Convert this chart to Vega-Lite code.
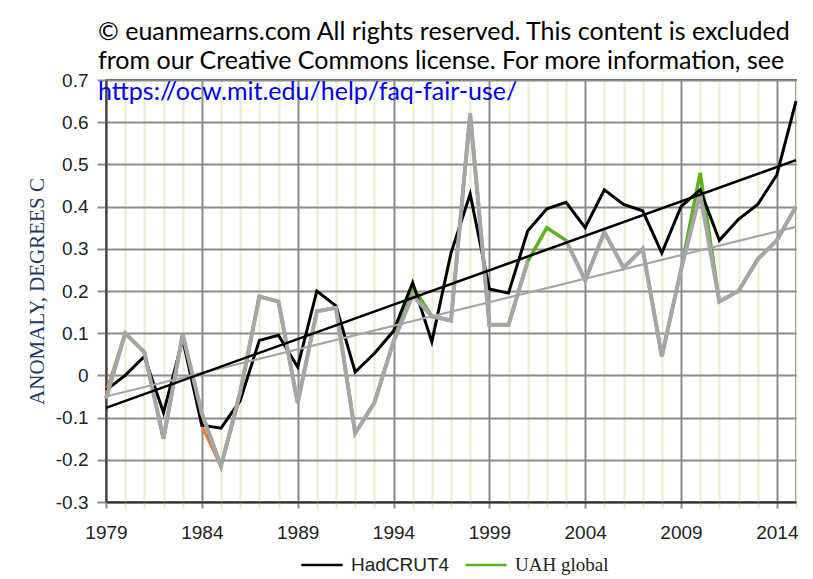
{
  "$schema": "https://vega.github.io/schema/vega-lite/v6.json",
  "width": 690,
  "height": 422,
  "autosize": "none",
  "padding": {"left": 106, "top": 80, "right": 17, "bottom": 77},
  "background": "white",
  "config": {"view": {"stroke": "#222222", "strokeWidth": 1.5}},
  "title": {
    "text": ["© euanmearns.com All rights reserved. This content is excluded", "from our Creative Commons license. For more information, see"],
    "subtitle": "https://ocw.mit.edu/help/faq-fair-use/",
    "anchor": "start",
    "frame": "group",
    "font": "Lato",
    "fontSize": 25,
    "fontWeight": "normal",
    "color": "#000000",
    "lineHeight": 29,
    "subtitleFont": "Lato",
    "subtitleFontSize": 25,
    "subtitleColor": "#0000ee",
    "subtitleLineHeight": 30,
    "subtitlePadding": 6,
    "offset": -34,
    "dx": -8
  },
  "data": {
    "values": [
      {"year": 1979, "series": "HadCRUT4", "value": -0.035},
      {"year": 1980, "series": "HadCRUT4", "value": 0.0},
      {"year": 1981, "series": "HadCRUT4", "value": 0.045},
      {"year": 1982, "series": "HadCRUT4", "value": -0.088},
      {"year": 1983, "series": "HadCRUT4", "value": 0.085},
      {"year": 1984, "series": "HadCRUT4", "value": -0.118},
      {"year": 1985, "series": "HadCRUT4", "value": -0.125},
      {"year": 1986, "series": "HadCRUT4", "value": -0.06},
      {"year": 1987, "series": "HadCRUT4", "value": 0.083},
      {"year": 1988, "series": "HadCRUT4", "value": 0.095},
      {"year": 1989, "series": "HadCRUT4", "value": 0.02},
      {"year": 1990, "series": "HadCRUT4", "value": 0.2},
      {"year": 1991, "series": "HadCRUT4", "value": 0.165},
      {"year": 1992, "series": "HadCRUT4", "value": 0.008},
      {"year": 1993, "series": "HadCRUT4", "value": 0.052},
      {"year": 1994, "series": "HadCRUT4", "value": 0.105},
      {"year": 1995, "series": "HadCRUT4", "value": 0.22},
      {"year": 1996, "series": "HadCRUT4", "value": 0.08},
      {"year": 1997, "series": "HadCRUT4", "value": 0.29},
      {"year": 1998, "series": "HadCRUT4", "value": 0.43},
      {"year": 1999, "series": "HadCRUT4", "value": 0.205},
      {"year": 2000, "series": "HadCRUT4", "value": 0.195},
      {"year": 2001, "series": "HadCRUT4", "value": 0.342},
      {"year": 2002, "series": "HadCRUT4", "value": 0.395},
      {"year": 2003, "series": "HadCRUT4", "value": 0.41},
      {"year": 2004, "series": "HadCRUT4", "value": 0.35},
      {"year": 2005, "series": "HadCRUT4", "value": 0.44},
      {"year": 2006, "series": "HadCRUT4", "value": 0.405},
      {"year": 2007, "series": "HadCRUT4", "value": 0.39},
      {"year": 2008, "series": "HadCRUT4", "value": 0.29},
      {"year": 2009, "series": "HadCRUT4", "value": 0.4},
      {"year": 2010, "series": "HadCRUT4", "value": 0.44},
      {"year": 2011, "series": "HadCRUT4", "value": 0.32},
      {"year": 2012, "series": "HadCRUT4", "value": 0.37},
      {"year": 2013, "series": "HadCRUT4", "value": 0.405},
      {"year": 2014, "series": "HadCRUT4", "value": 0.475},
      {"year": 2015, "series": "HadCRUT4", "value": 0.65},

      {"year": 1979, "series": "UAH global", "value": -0.055},
      {"year": 1980, "series": "UAH global", "value": 0.1},
      {"year": 1981, "series": "UAH global", "value": 0.055},
      {"year": 1982, "series": "UAH global", "value": -0.15},
      {"year": 1983, "series": "UAH global", "value": 0.097},
      {"year": 1984, "series": "UAH global", "value": -0.09},
      {"year": 1985, "series": "UAH global", "value": -0.215},
      {"year": 1986, "series": "UAH global", "value": -0.04},
      {"year": 1987, "series": "UAH global", "value": 0.187},
      {"year": 1988, "series": "UAH global", "value": 0.175},
      {"year": 1989, "series": "UAH global", "value": -0.065},
      {"year": 1990, "series": "UAH global", "value": 0.152},
      {"year": 1991, "series": "UAH global", "value": 0.16},
      {"year": 1992, "series": "UAH global", "value": -0.137},
      {"year": 1993, "series": "UAH global", "value": -0.065},
      {"year": 1994, "series": "UAH global", "value": 0.08},
      {"year": 1995, "series": "UAH global", "value": 0.21},
      {"year": 1996, "series": "UAH global", "value": 0.14},
      {"year": 1997, "series": "UAH global", "value": 0.13},
      {"year": 1998, "series": "UAH global", "value": 0.62},
      {"year": 1999, "series": "UAH global", "value": 0.12},
      {"year": 2000, "series": "UAH global", "value": 0.12},
      {"year": 2001, "series": "UAH global", "value": 0.27},
      {"year": 2002, "series": "UAH global", "value": 0.35},
      {"year": 2003, "series": "UAH global", "value": 0.32},
      {"year": 2004, "series": "UAH global", "value": 0.225},
      {"year": 2005, "series": "UAH global", "value": 0.34},
      {"year": 2006, "series": "UAH global", "value": 0.255},
      {"year": 2007, "series": "UAH global", "value": 0.3},
      {"year": 2008, "series": "UAH global", "value": 0.045},
      {"year": 2009, "series": "UAH global", "value": 0.25},
      {"year": 2010, "series": "UAH global", "value": 0.48},
      {"year": 2011, "series": "UAH global", "value": 0.175},
      {"year": 2012, "series": "UAH global", "value": 0.2},
      {"year": 2013, "series": "UAH global", "value": 0.275},
      {"year": 2014, "series": "UAH global", "value": 0.32},
      {"year": 2015, "series": "UAH global", "value": 0.4},

      {"year": 1979, "series": "Grey", "value": -0.055},
      {"year": 1980, "series": "Grey", "value": 0.1},
      {"year": 1981, "series": "Grey", "value": 0.055},
      {"year": 1982, "series": "Grey", "value": -0.15},
      {"year": 1983, "series": "Grey", "value": 0.097},
      {"year": 1984, "series": "Grey", "value": -0.09},
      {"year": 1985, "series": "Grey", "value": -0.215},
      {"year": 1986, "series": "Grey", "value": -0.04},
      {"year": 1987, "series": "Grey", "value": 0.187},
      {"year": 1988, "series": "Grey", "value": 0.175},
      {"year": 1989, "series": "Grey", "value": -0.065},
      {"year": 1990, "series": "Grey", "value": 0.152},
      {"year": 1991, "series": "Grey", "value": 0.16},
      {"year": 1992, "series": "Grey", "value": -0.137},
      {"year": 1993, "series": "Grey", "value": -0.065},
      {"year": 1994, "series": "Grey", "value": 0.08},
      {"year": 1995, "series": "Grey", "value": 0.19},
      {"year": 1996, "series": "Grey", "value": 0.14},
      {"year": 1997, "series": "Grey", "value": 0.13},
      {"year": 1998, "series": "Grey", "value": 0.62},
      {"year": 1999, "series": "Grey", "value": 0.12},
      {"year": 2000, "series": "Grey", "value": 0.12},
      {"year": 2001, "series": "Grey", "value": 0.27},
      {"year": 2002, "series": "Grey", "value": null},
      {"year": 2003, "series": "Grey", "value": 0.32},
      {"year": 2004, "series": "Grey", "value": 0.225},
      {"year": 2005, "series": "Grey", "value": 0.34},
      {"year": 2006, "series": "Grey", "value": 0.255},
      {"year": 2007, "series": "Grey", "value": 0.3},
      {"year": 2008, "series": "Grey", "value": 0.045},
      {"year": 2009, "series": "Grey", "value": 0.25},
      {"year": 2010, "series": "Grey", "value": 0.43},
      {"year": 2011, "series": "Grey", "value": 0.175},
      {"year": 2012, "series": "Grey", "value": 0.2},
      {"year": 2013, "series": "Grey", "value": 0.275},
      {"year": 2014, "series": "Grey", "value": 0.32},
      {"year": 2015, "series": "Grey", "value": 0.4},

      {"year": 1979, "series": "Orange", "value": -0.04},
      {"year": 1980, "series": "Orange", "value": 0.1},
      {"year": 1981, "series": "Orange", "value": 0.055},
      {"year": 1982, "series": "Orange", "value": -0.15},
      {"year": 1983, "series": "Orange", "value": 0.097},
      {"year": 1984, "series": "Orange", "value": -0.12},
      {"year": 1985, "series": "Orange", "value": -0.215},
      {"year": 1986, "series": "Orange", "value": -0.05},
      {"year": 1987, "series": "Orange", "value": 0.187},

      {"year": 1979, "series": "HadCRUT4 trend", "value": -0.077},
      {"year": 2015, "series": "HadCRUT4 trend", "value": 0.51},
      {"year": 1979, "series": "Grey trend", "value": -0.05},
      {"year": 2015, "series": "Grey trend", "value": 0.352}
    ]
  },
  "encoding": {
    "x": {
      "field": "year",
      "type": "quantitative",
      "scale": {"domain": [1979, 2015], "nice": false, "zero": false},
      "axis": {
        "title": null,
        "values": [1979,1980,1981,1982,1983,1984,1985,1986,1987,1988,1989,1990,1991,1992,1993,1994,1995,1996,1997,1998,1999,2000,2001,2002,2003,2004,2005,2006,2007,2008,2009,2010,2011,2012,2013,2014,2015],
        "format": "d",
        "labelExpr": "(datum.value - 1979) % 5 == 0 ? datum.label : ''",
        "labelOverlap": false,
        "labelFlush": false,
        "labelFont": "Liberation Sans",
        "labelFontSize": 19,
        "labelColor": "#222222",
        "labelPadding": 15,
        "grid": true,
        "gridColor": {"condition": {"test": "(datum.value - 1979) % 5 == 0", "value": "#8c8c8c"}, "value": "#ebebcf"},
        "gridWidth": 2,
        "tickColor": {"condition": {"test": "(datum.value - 1979) % 5 == 0", "value": "#8c8c8c"}, "value": "#ebebcf"},
        "tickSize": 6,
        "tickWidth": 2,
        "domainColor": "#333333",
        "domainWidth": 2
      }
    },
    "y": {
      "field": "value",
      "type": "quantitative",
      "scale": {"domain": [-0.3, 0.7], "nice": false, "zero": false},
      "axis": {
        "title": "ANOMALY, DEGREES C",
        "titleFont": "Liberation Serif",
        "titleFontSize": 21,
        "titleFontWeight": "normal",
        "titleColor": "#1f3864",
        "titlePadding": 8,
        "values": [-0.3, -0.2, -0.1, 0, 0.1, 0.2, 0.3, 0.4, 0.5, 0.6, 0.7],
        "labelExpr": "datum.value == 0 ? '0' : toString(datum.value)",
        "labelFont": "Liberation Sans",
        "labelFontSize": 19,
        "labelColor": "#222222",
        "labelPadding": 9,
        "grid": true,
        "gridColor": "#8c8c8c",
        "gridWidth": 2,
        "tickColor": "#8c8c8c",
        "tickSize": 9,
        "tickWidth": 2,
        "domainColor": "#444444",
        "domainWidth": 2
      }
    }
  },
  "layer": [
    {
      "transform": [{"filter": "datum.series == 'Orange'"}],
      "mark": {"type": "line", "color": "#f07a2a", "strokeWidth": 3}
    },
    {
      "transform": [{"filter": "datum.series == 'UAH global'"}],
      "mark": {"type": "line", "strokeWidth": 3.5},
      "encoding": {
        "color": {
          "field": "series",
          "type": "nominal",
          "scale": {"domain": ["HadCRUT4", "UAH global"], "range": ["#000000", "#5cb318"]},
          "legend": {
            "orient": "none",
            "legendX": 194,
            "legendY": 463,
            "direction": "horizontal",
            "title": null,
            "symbolType": "stroke",
            "symbolSize": 1700,
            "symbolStrokeWidth": 2.5,
            "labelFont": "Liberation Sans",
            "labelFontSize": 19,
            "labelColor": "#222222",
            "labelOffset": 7,
            "columnPadding": 10,
            "encode": {"labels": {"update": {"font": {"signal": "datum.value === 'UAH global' ? 'Liberation Serif' : 'Liberation Sans'"}}}}
          }
        }
      }
    },
    {
      "transform": [{"filter": "datum.series == 'HadCRUT4'"}],
      "mark": {"type": "line", "strokeWidth": 3},
      "encoding": {
        "color": {"field": "series", "type": "nominal"}
      }
    },
    {
      "transform": [{"filter": "datum.series == 'Grey'"}],
      "mark": {"type": "line", "color": "#a6a6a6", "strokeWidth": 4}
    },
    {
      "transform": [{"filter": "datum.series == 'Grey trend'"}],
      "mark": {"type": "line", "color": "#a6a6a6", "strokeWidth": 2.2}
    },
    {
      "transform": [{"filter": "datum.series == 'HadCRUT4 trend'"}],
      "mark": {"type": "line", "color": "#000000", "strokeWidth": 2.5}
    }
  ]
}
